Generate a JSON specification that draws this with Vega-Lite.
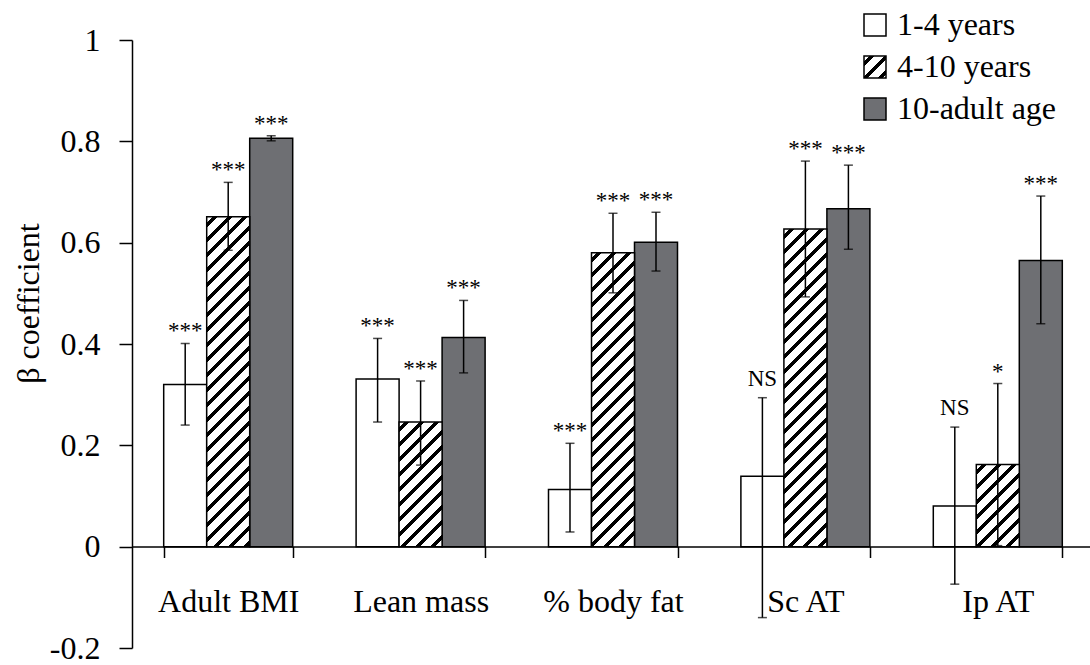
{
  "$schema": "https://vega.github.io/schema/vega-lite/v6.json",
  "width": 962,
  "height": 608,
  "autosize": {"type": "none"},
  "padding": {"left": 132, "top": 40, "right": -4, "bottom": 17},
  "background": "white",
  "config": {"view": {"stroke": null}, "font": "Liberation Serif"},
  "params": [
    {"name": "legendHatch", "value": {"gradient": "linear", "x1": 0, "y1": 0, "x2": 1, "y2": 1, "stops": [
      {"offset": 0.127, "color": "#fff"}, {"offset": 0.127, "color": "#000"},
      {"offset": 0.241, "color": "#000"}, {"offset": 0.241, "color": "#fff"},
      {"offset": 0.468, "color": "#fff"}, {"offset": 0.468, "color": "#000"},
      {"offset": 0.582, "color": "#000"}, {"offset": 0.582, "color": "#fff"},
      {"offset": 0.809, "color": "#fff"}, {"offset": 0.809, "color": "#000"},
      {"offset": 0.923, "color": "#000"}, {"offset": 0.923, "color": "#fff"}
    ]}},
    {"name": "hatch", "value": [
      {"offset":0.015,"color":"#fff"},{"offset":0.015,"color":"#000"},{"offset":0.0285,"color":"#000"},{"offset":0.0285,"color":"#fff"},
      {"offset":0.055,"color":"#fff"},{"offset":0.055,"color":"#000"},{"offset":0.0685,"color":"#000"},{"offset":0.0685,"color":"#fff"},
      {"offset":0.095,"color":"#fff"},{"offset":0.095,"color":"#000"},{"offset":0.1085,"color":"#000"},{"offset":0.1085,"color":"#fff"},
      {"offset":0.135,"color":"#fff"},{"offset":0.135,"color":"#000"},{"offset":0.1485,"color":"#000"},{"offset":0.1485,"color":"#fff"},
      {"offset":0.175,"color":"#fff"},{"offset":0.175,"color":"#000"},{"offset":0.1885,"color":"#000"},{"offset":0.1885,"color":"#fff"},
      {"offset":0.215,"color":"#fff"},{"offset":0.215,"color":"#000"},{"offset":0.2285,"color":"#000"},{"offset":0.2285,"color":"#fff"},
      {"offset":0.255,"color":"#fff"},{"offset":0.255,"color":"#000"},{"offset":0.2685,"color":"#000"},{"offset":0.2685,"color":"#fff"},
      {"offset":0.295,"color":"#fff"},{"offset":0.295,"color":"#000"},{"offset":0.3085,"color":"#000"},{"offset":0.3085,"color":"#fff"},
      {"offset":0.335,"color":"#fff"},{"offset":0.335,"color":"#000"},{"offset":0.3485,"color":"#000"},{"offset":0.3485,"color":"#fff"},
      {"offset":0.375,"color":"#fff"},{"offset":0.375,"color":"#000"},{"offset":0.3885,"color":"#000"},{"offset":0.3885,"color":"#fff"},
      {"offset":0.415,"color":"#fff"},{"offset":0.415,"color":"#000"},{"offset":0.4285,"color":"#000"},{"offset":0.4285,"color":"#fff"},
      {"offset":0.455,"color":"#fff"},{"offset":0.455,"color":"#000"},{"offset":0.4685,"color":"#000"},{"offset":0.4685,"color":"#fff"},
      {"offset":0.495,"color":"#fff"},{"offset":0.495,"color":"#000"},{"offset":0.5085,"color":"#000"},{"offset":0.5085,"color":"#fff"},
      {"offset":0.535,"color":"#fff"},{"offset":0.535,"color":"#000"},{"offset":0.5485,"color":"#000"},{"offset":0.5485,"color":"#fff"},
      {"offset":0.575,"color":"#fff"},{"offset":0.575,"color":"#000"},{"offset":0.5885,"color":"#000"},{"offset":0.5885,"color":"#fff"},
      {"offset":0.615,"color":"#fff"},{"offset":0.615,"color":"#000"},{"offset":0.6285,"color":"#000"},{"offset":0.6285,"color":"#fff"},
      {"offset":0.655,"color":"#fff"},{"offset":0.655,"color":"#000"},{"offset":0.6685,"color":"#000"},{"offset":0.6685,"color":"#fff"},
      {"offset":0.695,"color":"#fff"},{"offset":0.695,"color":"#000"},{"offset":0.7085,"color":"#000"},{"offset":0.7085,"color":"#fff"},
      {"offset":0.735,"color":"#fff"},{"offset":0.735,"color":"#000"},{"offset":0.7485,"color":"#000"},{"offset":0.7485,"color":"#fff"},
      {"offset":0.775,"color":"#fff"},{"offset":0.775,"color":"#000"},{"offset":0.7885,"color":"#000"},{"offset":0.7885,"color":"#fff"},
      {"offset":0.815,"color":"#fff"},{"offset":0.815,"color":"#000"},{"offset":0.8285,"color":"#000"},{"offset":0.8285,"color":"#fff"},
      {"offset":0.855,"color":"#fff"},{"offset":0.855,"color":"#000"},{"offset":0.8685,"color":"#000"},{"offset":0.8685,"color":"#fff"},
      {"offset":0.895,"color":"#fff"},{"offset":0.895,"color":"#000"},{"offset":0.9085,"color":"#000"},{"offset":0.9085,"color":"#fff"},
      {"offset":0.935,"color":"#fff"},{"offset":0.935,"color":"#000"},{"offset":0.9485,"color":"#000"},{"offset":0.9485,"color":"#fff"},
      {"offset":0.975,"color":"#fff"},{"offset":0.975,"color":"#000"},{"offset":0.9885,"color":"#000"},{"offset":0.9885,"color":"#fff"}
    ]}
  ],
  "data": {"values": [
    {"cat": "Adult BMI", "series": "1-4 years", "value": 0.320, "lo": 0.240, "hi": 0.401, "sig": "***"},
    {"cat": "Adult BMI", "series": "4-10 years", "value": 0.651, "lo": 0.585, "hi": 0.719, "sig": "***"},
    {"cat": "Adult BMI", "series": "10-adult age", "value": 0.806, "lo": 0.801, "hi": 0.811, "sig": "***"},
    {"cat": "Lean mass", "series": "1-4 years", "value": 0.331, "lo": 0.246, "hi": 0.411, "sig": "***"},
    {"cat": "Lean mass", "series": "4-10 years", "value": 0.246, "lo": 0.161, "hi": 0.327, "sig": "***"},
    {"cat": "Lean mass", "series": "10-adult age", "value": 0.413, "lo": 0.343, "hi": 0.486, "sig": "***"},
    {"cat": "% body fat", "series": "1-4 years", "value": 0.113, "lo": 0.029, "hi": 0.204, "sig": "***"},
    {"cat": "% body fat", "series": "4-10 years", "value": 0.580, "lo": 0.501, "hi": 0.658, "sig": "***"},
    {"cat": "% body fat", "series": "10-adult age", "value": 0.601, "lo": 0.544, "hi": 0.660, "sig": "***"},
    {"cat": "Sc AT", "series": "1-4 years", "value": 0.139, "lo": -0.140, "hi": 0.294, "sig": "NS"},
    {"cat": "Sc AT", "series": "4-10 years", "value": 0.627, "lo": 0.493, "hi": 0.761, "sig": "***"},
    {"cat": "Sc AT", "series": "10-adult age", "value": 0.667, "lo": 0.587, "hi": 0.753, "sig": "***"},
    {"cat": "Ip AT", "series": "1-4 years", "value": 0.0805, "lo": -0.074, "hi": 0.236, "sig": "NS"},
    {"cat": "Ip AT", "series": "4-10 years", "value": 0.162, "lo": 0.002, "hi": 0.322, "sig": "*"},
    {"cat": "Ip AT", "series": "10-adult age", "value": 0.565, "lo": 0.440, "hi": 0.692, "sig": "***"}
  ]},
  "encoding": {
    "x": {
      "field": "cat", "type": "nominal",
      "sort": ["Adult BMI", "Lean mass", "% body fat", "Sc AT", "Ip AT"],
      "scale": {"paddingInner": 0.3295, "paddingOuter": 0.16475},
      "axis": {
        "title": null, "orient": "bottom", "offset": -101.5,
        "domainColor": "black", "domainWidth": 1.5,
        "tickColor": "black", "tickWidth": 1.5, "tickSize": 11, "tickBand": "extent",
        "labelAngle": 0, "labelFont": "Liberation Serif", "labelFontSize": 32, "labelColor": "black",
        "labelPadding": 29, "labelLimit": 400, "labelOverlap": false
      }
    },
    "xOffset": {
      "field": "series", "type": "nominal",
      "sort": ["1-4 years", "4-10 years", "10-adult age"],
      "scale": {"domain": ["1-4 years", "4-10 years", "10-adult age"], "paddingInner": 0, "paddingOuter": 0}
    }
  },
  "layer": [
    {
      "transform": [{"filter": "datum.series != '4-10 years'"}],
      "mark": {"type": "bar", "stroke": "black", "strokeWidth": 1.5},
      "encoding": {
        "y": {
          "field": "value", "type": "quantitative", "title": "β coefficient",
          "scale": {"domain": [-0.2, 1], "nice": false, "zero": false},
          "axis": {
            "values": [-0.2, 0, 0.2, 0.4, 0.6, 0.8, 1],
            "labelExpr": "'' + datum.value",
            "grid": false,
            "domainColor": "black", "domainWidth": 1.5,
            "tickColor": "black", "tickWidth": 1.5, "tickSize": 13,
            "labelFont": "Liberation Serif", "labelFontSize": 32, "labelColor": "black", "labelPadding": 19,
            "titleFont": "Liberation Serif", "titleFontSize": 32, "titleFontWeight": "normal", "titleColor": "black",
            "titleX": -104, "titleY": 263, "titleAlign": "center", "titleBaseline": "middle", "titleAngle": -90
          }
        },
        "fill": {
          "field": "series", "type": "nominal",
          "scale": {
            "domain": ["1-4 years", "4-10 years", "10-adult age"],
            "range": ["#ffffff", {"expr": "legendHatch"}, "#6e6f73"]
          },
          "legend": {
            "orient": "none", "legendX": 727, "legendY": -31, "title": null, "padding": 0,
            "symbolType": "square", "symbolSize": 484, "symbolStrokeColor": "black", "symbolStrokeWidth": 1.5,
            "labelFont": "Liberation Serif", "labelFontSize": 32, "labelColor": "black",
            "labelOffset": 6, "rowPadding": 10, "labelLimit": 400
          }
        }
      }
    },
    {
      "transform": [{"filter": "datum.series == '4-10 years'"}],
      "mark": {
        "type": "bar", "stroke": "black", "strokeWidth": 1.5,
        "fill": {"expr": "{gradient: 'linear', x1: 0, y1: 0, x2: 375 * bandwidth('xOffset') / (bandwidth('xOffset') * bandwidth('xOffset') + pow(scale('y', 0) - scale('y', datum.value), 2)), y2: 375 * (scale('y', 0) - scale('y', datum.value)) / (bandwidth('xOffset') * bandwidth('xOffset') + pow(scale('y', 0) - scale('y', datum.value), 2)), stops: hatch}"}
      },
      "encoding": {
        "y": {"field": "value", "type": "quantitative", "title": "β coefficient"}
      }
    },
    {
      "mark": {"type": "rule", "color": "black", "strokeWidth": 1.5},
      "encoding": {
        "y": {"field": "lo", "type": "quantitative", "title": "β coefficient"},
        "y2": {"field": "hi"}
      }
    },
    {
      "mark": {"type": "tick", "color": "black", "thickness": 1.5, "size": 9, "orient": "horizontal"},
      "encoding": {
        "y": {"field": "lo", "type": "quantitative", "title": "β coefficient"}
      }
    },
    {
      "mark": {"type": "tick", "color": "black", "thickness": 1.5, "size": 9, "orient": "horizontal"},
      "encoding": {
        "y": {"field": "hi", "type": "quantitative", "title": "β coefficient"}
      }
    },
    {
      "transform": [{"filter": "datum.sig != 'NS'"}],
      "mark": {"type": "text", "font": "Liberation Serif", "fontSize": 23, "color": "black", "baseline": "alphabetic", "dy": -5},
      "encoding": {
        "y": {"field": "hi", "type": "quantitative", "title": "β coefficient"},
        "text": {"field": "sig"}
      }
    },
    {
      "transform": [{"filter": "datum.sig == 'NS'"}],
      "mark": {"type": "text", "font": "Liberation Serif", "fontSize": 23, "color": "black", "baseline": "alphabetic", "dy": -12},
      "encoding": {
        "y": {"field": "hi", "type": "quantitative", "title": "β coefficient"},
        "text": {"field": "sig"}
      }
    }
  ]
}
